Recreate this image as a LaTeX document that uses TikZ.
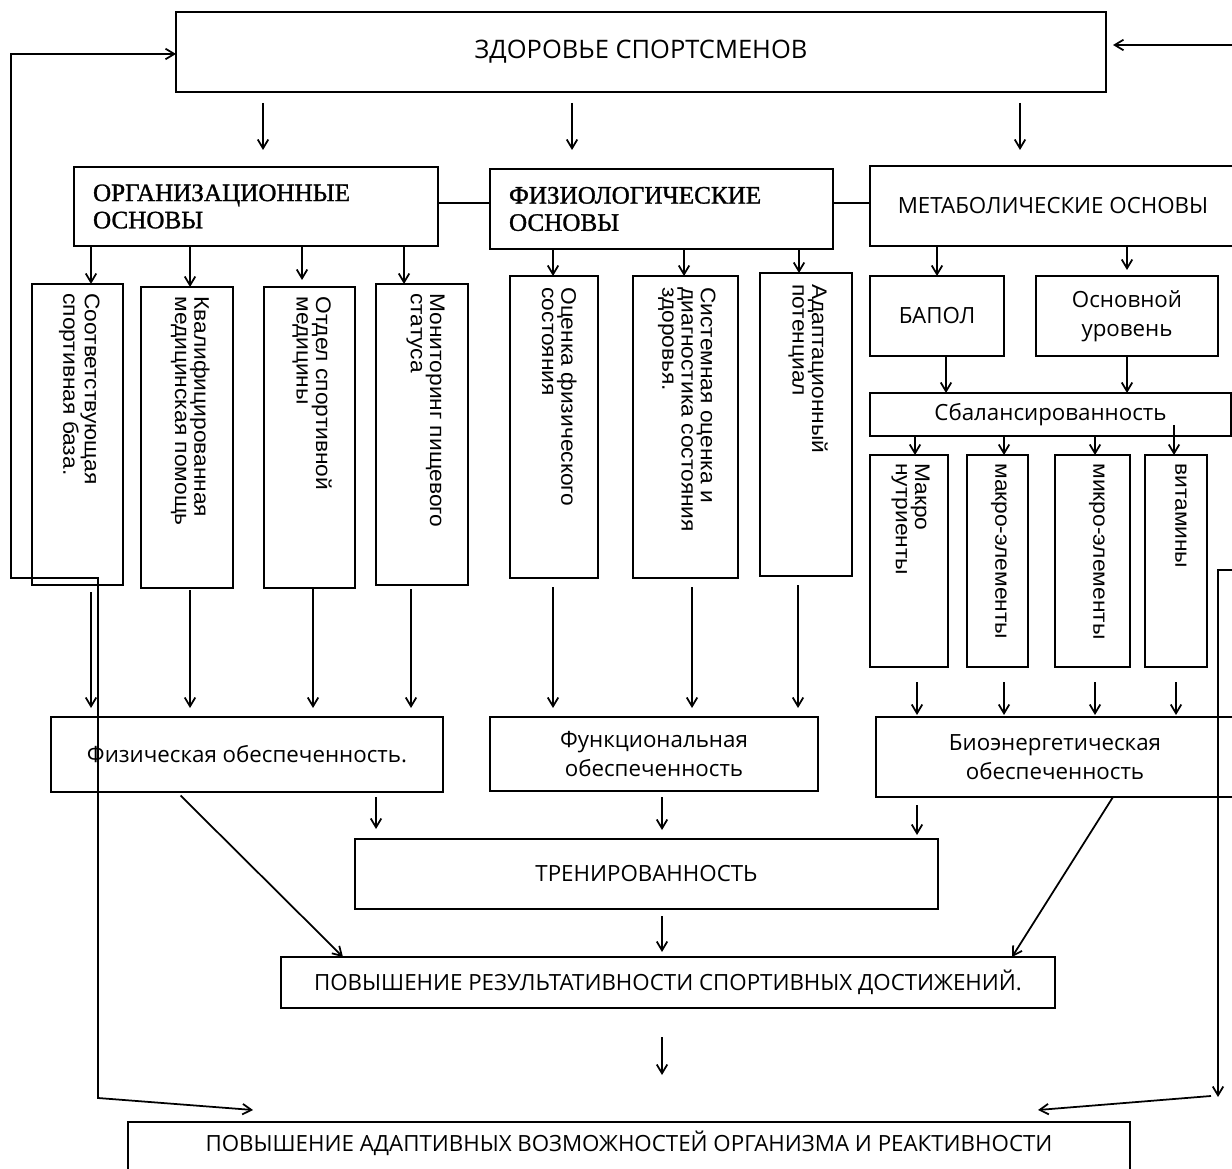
\documentclass[tikz,border=0pt]{standalone}
\usepackage{fontspec}
\setmainfont{Open Sans}
\newfontfamily\vfont[FakeStretch=1.08]{Liberation Sans}
\newfontfamily\hdfont[FakeBold=1.2]{Liberation Serif}
\usetikzlibrary{
    arrows.meta,
    positioning,
    calc
}
\def\pxu{0.02cm}
\tikzset{
  box/.style  = {draw, line width=1.3pt, inner sep=0pt, outer sep=0pt,
                 align=center, font=\fontsize{12.7}{16.5}\selectfont},
  hbox/.style = {box, align=left, font=\hdfont\fontsize{14.3}{15.5}\selectfont},
  vbox/.style = {draw, line width=1.3pt, inner sep=0pt, outer sep=0pt},
  vtxt/.style = {rotate=-90, anchor=north west, inner sep=0pt, align=left,
                 font=\vfont\fontsize{12}{11}\selectfont},
  arr/.style  = {-{Straight Barb[length=5pt,width=6pt]}, line width=1pt},
  arr2/.style = {arrows={Straight Barb[length=5pt,width=6pt]-Straight Barb[length=5pt,width=6pt]},
                 line width=1pt},
  link/.style = {line width=1pt}
}

\begin{document}
\begin{tikzpicture}[x=\pxu, y=-\pxu]
    \path[use as bounding box, fill=white] (0,0) rectangle (1232,1169);

    % top level
    \node[box, minimum width=930*\pxu, minimum height=80*\pxu,
          font=\fontsize{14.5}{17}\selectfont] (zdor) at (641,52) {ЗДОРОВЬЕ СПОРТСМЕНОВ};

    \node[hbox, minimum width=364*\pxu, minimum height=79*\pxu, text width=6.52cm]
          (org) at (256,206.5) {ОРГАНИЗАЦИОННЫЕ\\ОСНОВЫ};
    \node[hbox, minimum width=343*\pxu, minimum height=80*\pxu, text width=6.1cm]
          (fiz) at (661.5,209) {ФИЗИОЛОГИЧЕСКИЕ\\ОСНОВЫ};
    \node[box, minimum width=366*\pxu, minimum height=80*\pxu] (met) at (1053,206) {МЕТАБОЛИЧЕСКИЕ ОСНОВЫ};

    % organisational branch
    \node[vbox, minimum width=91*\pxu, minimum height=301*\pxu] (o1) at (77.5,434.5) {};
    \node[vbox, minimum width=92*\pxu, minimum height=301*\pxu] (o2) at (187,437.5) {};
    \node[vbox, minimum width=91*\pxu, minimum height=301*\pxu] (o3) at (309.5,437.5) {};
    \node[vbox, minimum width=92*\pxu, minimum height=301*\pxu] (o4) at (422,434.5) {};
    \node[vtxt] (o1t) at ($(o1.north east)+(-23,9)$) {Соответствующая\\спортивная база.};
    \node[vtxt] (o2t) at ($(o2.north east)+(-23,9)$) {Квалифицированная\\медицинская помощь};
    \node[vtxt] (o3t) at ($(o3.north east)+(-23,9)$) {Отдел спортивной\\медицины};
    \node[vtxt] (o4t) at ($(o4.north east)+(-23,9)$) {Мониторинг пищевого\\статуса};

    % physiological branch
    \node[vbox, minimum width=88*\pxu, minimum height=302*\pxu] (f1) at (554,427) {};
    \node[vbox, minimum width=105*\pxu, minimum height=302*\pxu] (f2) at (685.5,427) {};
    \node[vbox, minimum width=92*\pxu, minimum height=303*\pxu] (f3) at (806,424.5) {};
    \node[vtxt] (f1t) at ($(f1.north east)+(-21,11)$) {Оценка физического\\состояния};
    \node[vtxt] (f2t) at ($(f2.north east)+(-22,11)$) {Системная оценка и\\диагностика состояния\\здоровья.};
    \node[vtxt] (f3t) at ($(f3.north east)+(-24,11)$) {Адаптационный\\потенциал};

    % metabolic branch
    \node[box, minimum width=134*\pxu, minimum height=80*\pxu] (bapol) at (937,316) {БАПОЛ};
    \node[box, minimum width=182*\pxu, minimum height=80*\pxu] (osn) at (1127,316) {Основной\\уровень};
    \node[box, minimum width=361*\pxu, minimum height=43*\pxu] (sbal) at (1050.5,414.5) {Сбалансированность};
    \node[vbox, minimum width=78*\pxu, minimum height=212*\pxu] (m1) at (909,561) {};
    \node[vbox, minimum width=61*\pxu, minimum height=212*\pxu] (m2) at (997.5,561) {};
    \node[vbox, minimum width=75*\pxu, minimum height=212*\pxu] (m3) at (1092.5,561) {};
    \node[vbox, minimum width=62*\pxu, minimum height=212*\pxu] (m4) at (1176,561) {};
    \node[vtxt] (m1t) at ($(m1.north east)+(-18,8)$) {Макро\\нутриенты};
    \node[vtxt] (m2t) at ($(m2.north east)+(-21,8)$) {макро-элементы};
    \node[vtxt] (m3t) at ($(m3.north east)+(-25,8)$) {микро-элементы};
    \node[vtxt] (m4t) at ($(m4.north east)+(-20,8)$) {витамины};

    % results
    \node[box, minimum width=392*\pxu, minimum height=75*\pxu] (fizob) at (247,754.5) {Физическая обеспеченность.};
    \node[box, minimum width=328*\pxu, minimum height=74*\pxu] (funob) at (654,754) {Функциональная\\обеспеченность};
    \node[box, minimum width=358*\pxu, minimum height=80*\pxu] (bioob) at (1055,757) {Биоэнергетическая\\обеспеченность};
    \node[box, minimum width=583*\pxu, minimum height=70*\pxu] (tren) at (646.5,874) {ТРЕНИРОВАННОСТЬ};
    \node[box, minimum width=774*\pxu, minimum height=51*\pxu] (povr) at (668,982.5) {ПОВЫШЕНИЕ РЕЗУЛЬТАТИВНОСТИ СПОРТИВНЫХ ДОСТИЖЕНИЙ.};
    \node[vbox, minimum width=1002*\pxu, minimum height=76*\pxu] (adapt) at (629,1160) {};
    \node[box, draw=none] (adaptt) at (629,1143) {ПОВЫШЕНИЕ АДАПТИВНЫХ ВОЗМОЖНОСТЕЙ ОРГАНИЗМА И РЕАКТИВНОСТИ};

    % links between the bases
    \draw[link] (org.east |- 0,203) -- (fiz.west |- 0,203);
    \draw[link] (fiz.east |- 0,203) -- (met.west |- 0,203);

    \draw[arr, shorten <=11*\pxu, shorten >=17*\pxu] (zdor.south -| 263,0) -- (org.north -| 263,0);
    \draw[arr, shorten <=11*\pxu, shorten >=19*\pxu] (zdor.south -| 572,0) -- (fiz.north -| 572,0);
    \draw[arr, shorten <=11*\pxu, shorten >=16*\pxu] (zdor.south -| 1020,0) -- (met.north -| 1020,0);

    \draw[arr] (org.south -| 91,0) -- (o1.north -| 91,0);
    \draw[arr] (org.south -| 190,0) -- (o2.north -| 190,0);
    \draw[arr, shorten >=7*\pxu] (org.south -| 302,0) -- (o3.north -| 302,0);
    \draw[arr] (org.south -| 404,0) -- (o4.north -| 404,0);

    \draw[arr] (fiz.south -| 553,0) -- (f1.north -| 553,0);
    \draw[arr] (fiz.south -| 684,0) -- (f2.north -| 684,0);
    \draw[arr] (fiz.south -| 799,0) -- (f3.north -| 799,0);

    \draw[arr] (met.south -| 937,0) -- (bapol.north);
    \draw[arr, shorten >=6*\pxu] (met.south -| 1127,0) -- (osn.north);
    \draw[arr] (bapol.south -| 946,0) -- (sbal.north -| 946,0);
    \draw[arr] (osn.south) -- (sbal.north -| osn.south);
    \draw[arr] (sbal.south -| 915,0) -- (m1.north -| 915,0);
    \draw[arr] (sbal.south -| 1004,0) -- (m2.north -| 1004,0);
    \draw[arr] (sbal.south -| 1095,0) -- (m3.north -| 1095,0);
    \draw[arr, shorten <=-11*\pxu] (sbal.south -| 1174,0) -- (m4.north -| 1174,0);

    % down to the results
    \draw[arr, shorten <=7*\pxu, shorten >=9*\pxu] (o1.south -| 91,0) -- (fizob.north -| 91,0);
    \draw[arr, shorten <=2*\pxu, shorten >=9*\pxu] (o2.south -| 190,0) -- (fizob.north -| 190,0);
    \draw[arr, shorten >=9*\pxu] (o3.south -| 313,0) -- (fizob.north -| 313,0);
    \draw[arr, shorten <=4*\pxu, shorten >=9*\pxu] (o4.south -| 411,0) -- (fizob.north -| 411,0);
    \draw[arr, shorten <=9*\pxu, shorten >=9*\pxu] (f1.south -| 553,0) -- (funob.north -| 553,0);
    \draw[arr, shorten <=9*\pxu, shorten >=9*\pxu] (f2.south -| 692,0) -- (funob.north -| 692,0);
    \draw[arr, shorten <=9*\pxu, shorten >=9*\pxu] (f3.south -| 798,0) -- (funob.north -| 798,0);
    \draw[arr, shorten <=15*\pxu, shorten >=2*\pxu] (m1.south -| 917,0) -- (bioob.north -| 917,0);
    \draw[arr, shorten <=15*\pxu, shorten >=2*\pxu] (m2.south -| 1004,0) -- (bioob.north -| 1004,0);
    \draw[arr, shorten <=15*\pxu, shorten >=2*\pxu] (m3.south -| 1095,0) -- (bioob.north -| 1095,0);
    \draw[arr, shorten <=15*\pxu, shorten >=2*\pxu] (m4.south -| 1176,0) -- (bioob.north -| 1176,0);

    \draw[arr, shorten <=5*\pxu, shorten >=10*\pxu] (fizob.south -| 376,0) -- (tren.north -| 376,0);
    \draw[arr, shorten <=6*\pxu, shorten >=9*\pxu] (funob.south -| 662,0) -- (tren.north -| 662,0);
    \draw[arr, shorten <=8*\pxu, shorten >=4*\pxu] (bioob.south -| 917,0) -- (tren.north -| 917,0);
    \draw[arr, shorten <=5*\pxu] (fizob.south -| 177,0) -- (povr.north -| 343,0);
    \draw[arr] (bioob.south -| 1113,0) -- (povr.north -| 1012,0);
    \draw[arr, shorten <=7*\pxu, shorten >=5*\pxu] (tren.south -| 662,0) -- (povr.north -| 662,0);
    \draw[arr, shorten <=29*\pxu, shorten >=47*\pxu] (povr.south -| 662,0) -- (adapt.north -| 662,0);

    % feedback loops
    \draw[arr2] (zdor.west |- 0,54) -| (11,578) -| (98,1098) -- ($(adapt.north -| 253,0)+(0,-12)$);
    \coordinate (rin) at (1232,45);
    \draw[arr, shorten >=7*\pxu] (rin) -- (rin -| zdor.east);
    \coordinate (rloop) at (1232,570);
    \coordinate (rbend) at (1211,1096);
    \draw[arr] (rloop) -| (1218,1097);
    \draw[arr] (rbend) -- ($(adapt.north -| 1038,0)+(0,-12)$);
\end{tikzpicture}
\end{document}
